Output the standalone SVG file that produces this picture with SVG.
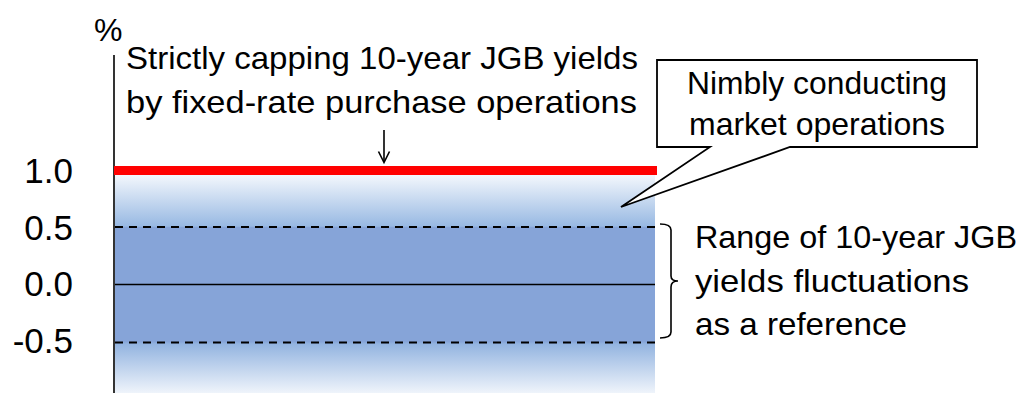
<svg xmlns="http://www.w3.org/2000/svg" width="1022" height="393" viewBox="0 0 1022 393">
<style>
text{font-family:"Liberation Sans",Arial,sans-serif;fill:#000}
.lbl{font-size:35px}
.t{font-size:31.5px}
.dash{stroke:#000;stroke-width:2;stroke-dasharray:8 6;fill:none}
.ln{stroke:#000;stroke-width:1.6;fill:none}
</style>
<defs>
<linearGradient id="g" gradientUnits="userSpaceOnUse" x1="0" y1="175" x2="0" y2="393">
<stop offset="0" stop-color="#f3f7fc"/>
<stop offset="0.235" stop-color="#98b9e3"/>
<stop offset="0.24" stop-color="#86a4d8"/>
<stop offset="0.765" stop-color="#86a4d8"/>
<stop offset="0.775" stop-color="#93b4e0"/>
<stop offset="1" stop-color="#eff4fb"/>
</linearGradient>
</defs>
<g id="plot">
<rect x="115" y="175" width="540" height="218" fill="url(#g)"/>
<line class="dash" x1="115" y1="227" x2="655" y2="227"/>
<line class="dash" x1="115" y1="342.5" x2="655" y2="342.5"/>
<line class="ln" x1="115" y1="284.5" x2="655" y2="284.5"/>
<line class="ln" x1="114" y1="55" x2="114" y2="393"/>
<line x1="114" y1="170.5" x2="657" y2="170.5" stroke="#ff0000" stroke-width="9"/>
</g>
<g id="axis-labels">
<text x="94" y="41" style="font-size:32px">%</text>
<text class="lbl" x="73" y="183" text-anchor="end">1.0</text>
<text class="lbl" x="73" y="239.5" text-anchor="end">0.5</text>
<text class="lbl" x="73" y="296" text-anchor="end">0.0</text>
<text class="lbl" x="73" y="353" text-anchor="end">-0.5</text>
</g>
<g id="cap-label">
<text class="t" x="126" y="69" textLength="512" lengthAdjust="spacingAndGlyphs">Strictly capping 10-year JGB yields</text>
<text class="t" x="126" y="113" textLength="511" lengthAdjust="spacingAndGlyphs">by fixed-rate purchase operations</text>
</g>
<g id="connectors">
<line class="ln" x1="384" y1="130" x2="384" y2="162"/>
<polyline class="ln" points="378.5,151.5 384,162.5 389.5,151.5"/>
<path class="ln" d="M660,224 Q671,224 671,230 L671,276 Q671,281 678,281 Q671,281 671,287 L671,332 Q671,338 660,338"/>
</g>
<g id="callout">
<path d="M657,60 L977,60 L977,147 L790,147 L621,207 L710,147 L657,147 Z" fill="#fff" stroke="#000" stroke-width="1.8" stroke-linejoin="miter"/>
<text class="t" x="687" y="94" textLength="260" lengthAdjust="spacingAndGlyphs">Nimbly conducting</text>
<text class="t" x="689" y="135" textLength="256" lengthAdjust="spacingAndGlyphs">market operations</text>
</g>
<g id="range-label">
<text class="t" x="695" y="248" textLength="322" lengthAdjust="spacingAndGlyphs">Range of 10-year JGB</text>
<text class="t" x="695" y="292" textLength="274" lengthAdjust="spacingAndGlyphs">yields fluctuations</text>
<text class="t" x="695" y="335" textLength="212" lengthAdjust="spacingAndGlyphs">as a reference</text>
</g>
</svg>
